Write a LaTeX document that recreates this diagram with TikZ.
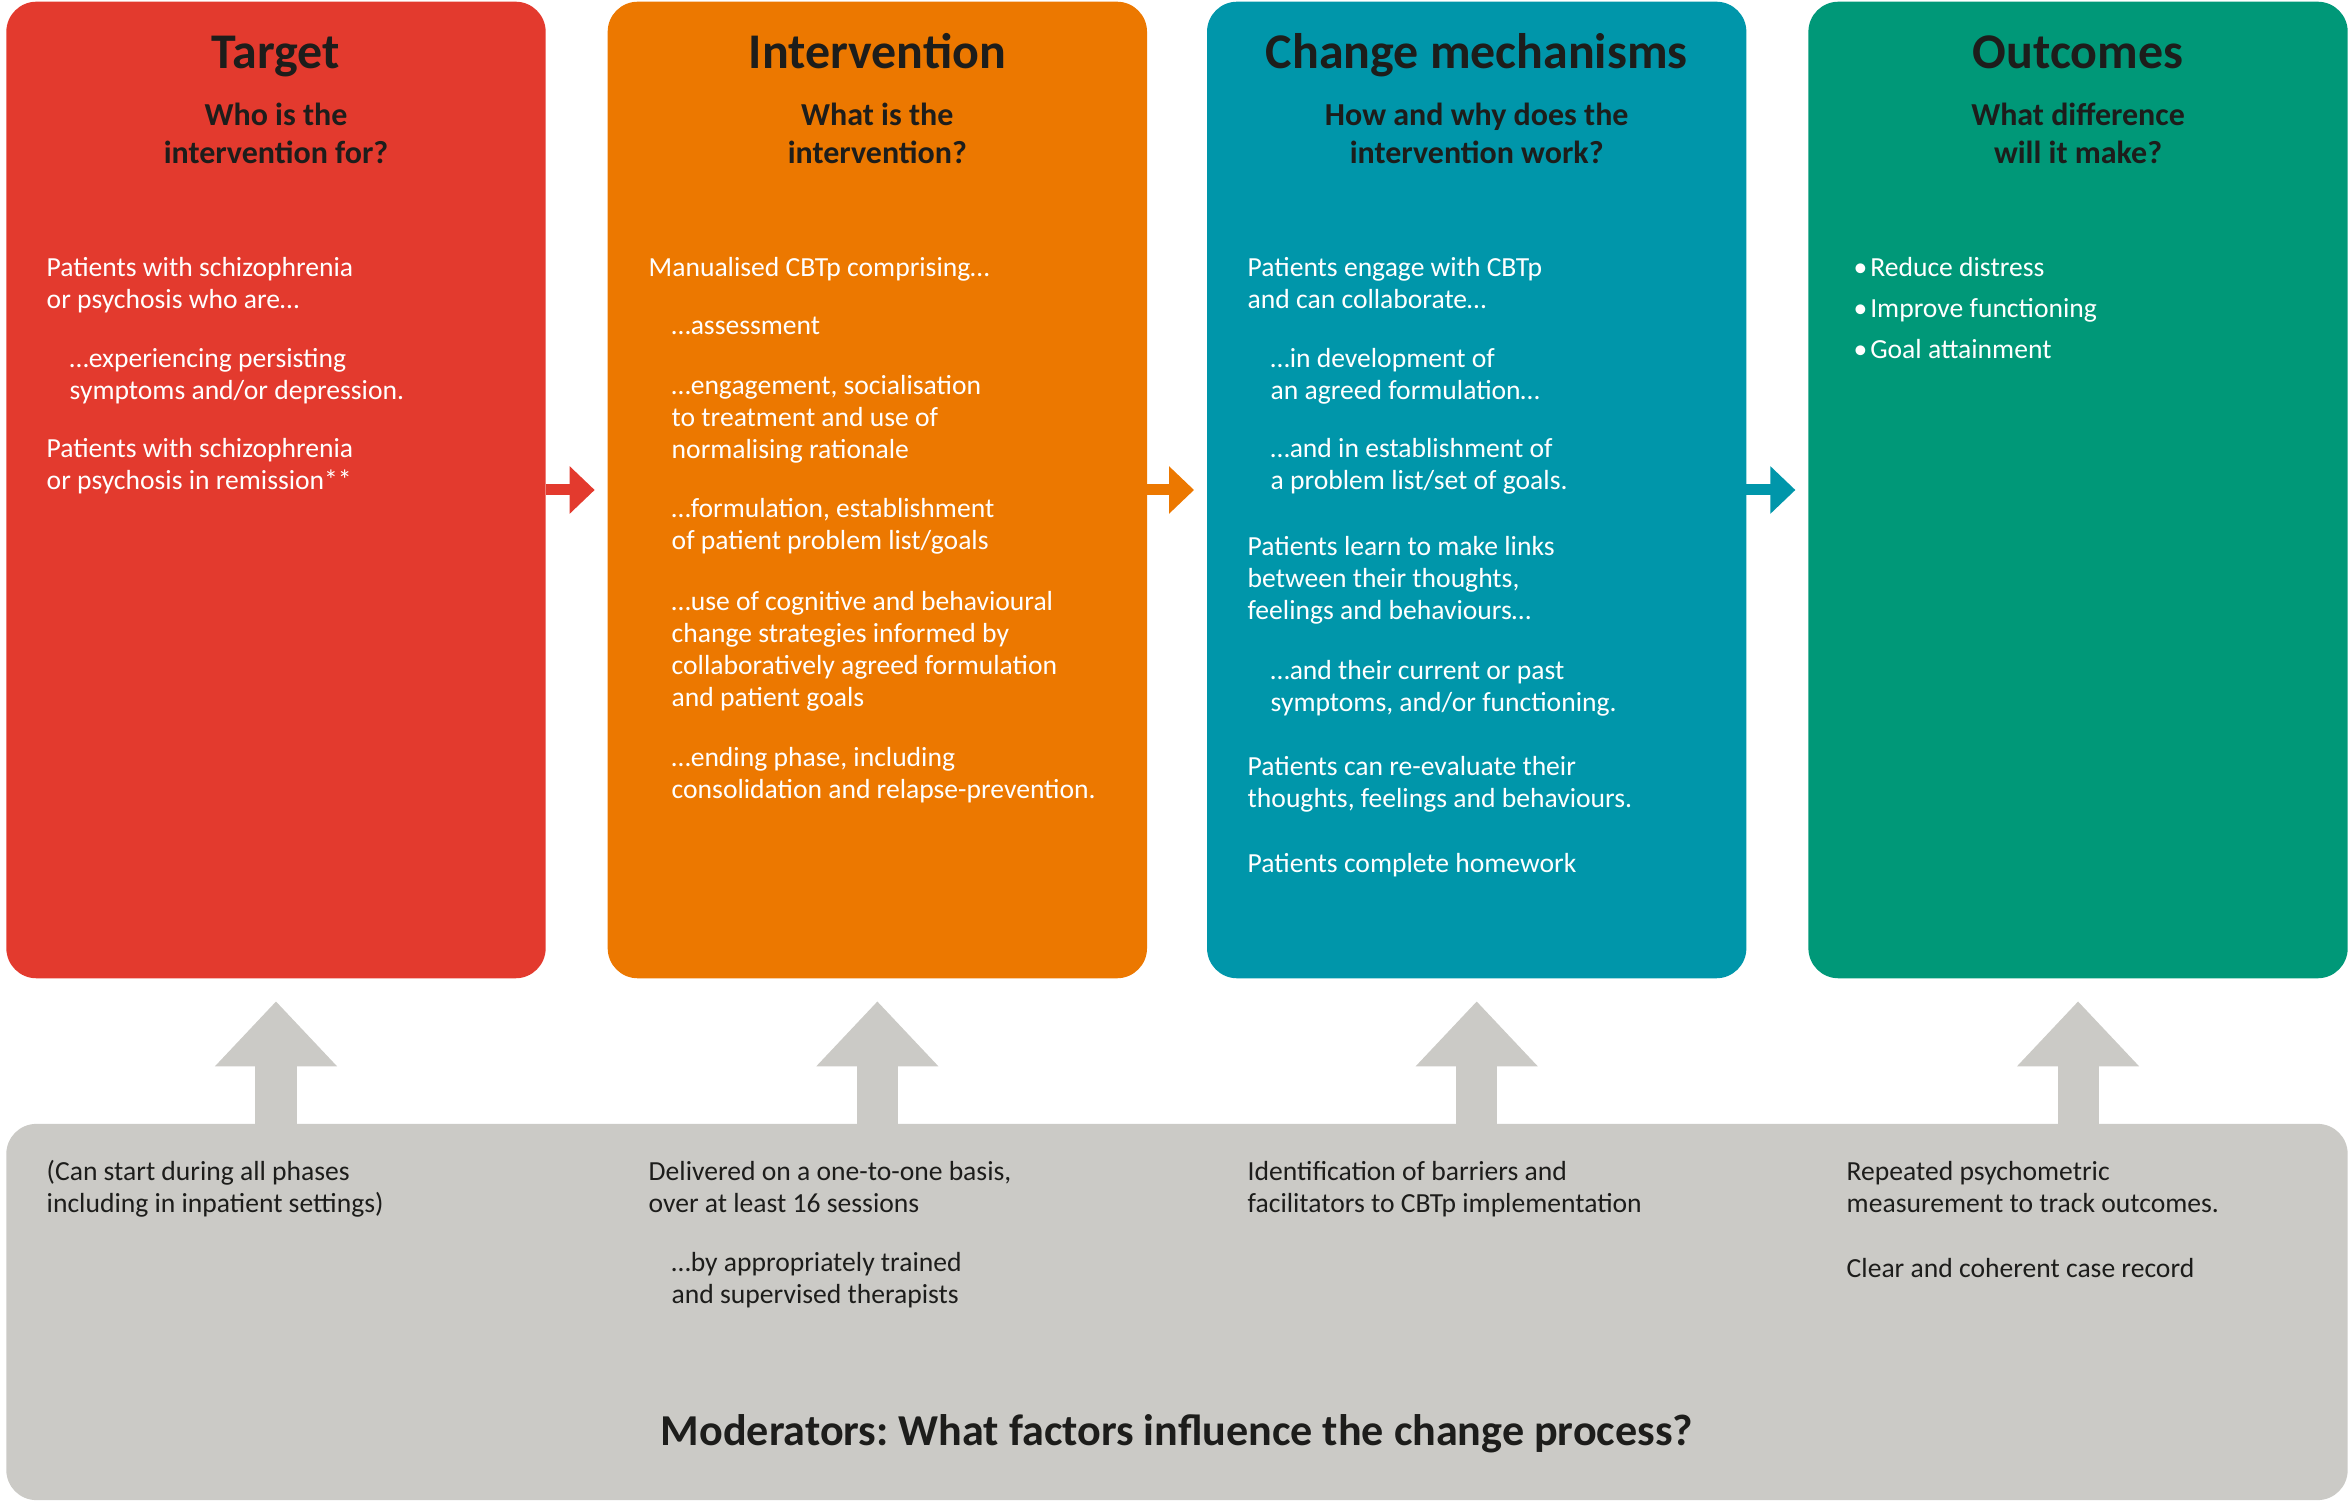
\documentclass[tikz,border=0pt]{standalone}
\usepackage{fontspec}
\setmainfont{Carlito}
\usetikzlibrary{positioning,calc,arrows.meta}
\definecolor{tgtRed}{RGB}{227,58,46}
\definecolor{intOrange}{RGB}{236,120,0}
\definecolor{mechTeal}{RGB}{0,150,170}
\definecolor{outGreen}{RGB}{0,152,120}
\definecolor{modGrey}{RGB}{203,202,198}
\definecolor{inkDark}{RGB}{29,29,27}
\tikzset{
    panel/.style={
        rectangle,
        rounded corners=0.3cm,
        minimum width=5.39cm,
        minimum height=9.76cm,
        inner sep=0pt,
        outer sep=0pt
    },
    headTxt/.style={font=\fontsize{14.2}{16}\selectfont\bfseries, text=inkDark, anchor=base, inner sep=0pt},
    askTxt/.style={font=\fontsize{9.1}{10.8}\selectfont\bfseries, text=inkDark, anchor=base, align=center, inner sep=0pt},
    bodyTxt/.style={font=\fontsize{7.85}{9.1}\selectfont, text=white, anchor=base west, align=left, inner sep=0pt},
    modTxt/.style={bodyTxt, text=inkDark},
    stepArrow/.style={-{Triangle[length=0.25cm,width=0.46cm]}, line width=0.11cm, shorten >=0.13cm},
    liftArrow/.style={-{Triangle[length=0.65cm,width=1.18cm]}, line width=0.41cm, modGrey, shorten >=0.23cm}
}
\begin{document}
\frenchspacing
\begin{tikzpicture}[x=0.01cm, y=-0.01cm]
    \useasboundingbox (0,0) rectangle (2348,1501);

    % the four phases
    \node[panel, fill=tgtRed] (tgt) at (276,490) {};
    \node[panel, fill=intOrange, right=0.62cm of tgt] (int) {};
    \node[panel, fill=mechTeal, right=0.60cm of int] (mech) {};
    \node[panel, fill=outGreen, right=0.62cm of mech] (out) {};

    % moderators strip
    \node[panel, fill=modGrey, minimum width=23.40cm, minimum height=3.76cm] (mod) at (1177,1312) {};

    \draw[stepArrow, tgtRed] (tgt.east) -- (int.west);
    \draw[stepArrow, intOrange] (int.east) -- (mech.west);
    \draw[stepArrow, mechTeal] (mech.east) -- (out.west);

    \draw[liftArrow] (mod.north -| tgt.south) -- (tgt.south);
    \draw[liftArrow] (mod.north -| int.south) -- (int.south);
    \draw[liftArrow] (mod.north -| mech.south) -- (mech.south);
    \draw[liftArrow] (mod.north -| out.south) -- (out.south);

    % headings
    \node[headTxt] (tgtH) at ($(tgt.north)+(0,67)$) {Target};
    \node[headTxt] (intH) at ($(int.north)+(0,67)$) {Intervention};
    \node[headTxt] (mechH) at ($(mech.north)+(0,67)$) {Change mechanisms};
    \node[headTxt] (outH) at ($(out.north)+(0,67)$) {Outcomes};

    \node[askTxt] (tgtQ) at ($(tgt.north)+(0,162)$) {Who is the\\intervention for?};
    \node[askTxt] (intQ) at ($(int.north)+(0,162)$) {What is the\\intervention?};
    \node[askTxt] (mechQ) at ($(mech.north)+(0,162)$) {How and why does the\\intervention work?};
    \node[askTxt] (outQ) at ($(out.north)+(0,162)$) {What difference\\will it make?};

    % Target (nodes sit on their last line)
    \node[bodyTxt] (tgtA) at (46,309) {Patients with schizophrenia\\or psychosis who are…};
    \node[bodyTxt] (tgtB) at (69,400) {…experiencing persisting\\symptoms and/or depression.};
    \node[bodyTxt] (tgtC) at (46,490) {Patients with schizophrenia\\or psychosis in remission**};

    % Intervention
    \node[bodyTxt] (intA) at (648,277) {Manualised CBTp comprising…};
    \node[bodyTxt] (intB) at (671,335) {…assessment};
    \node[bodyTxt] (intC) at (671,459) {…engagement, socialisation\\to treatment and use of\\normalising rationale};
    \node[bodyTxt] (intD) at (671,550) {…formulation, establishment\\of patient problem list/goals};
    \node[bodyTxt] (intE) at (671,707) {…use of cognitive and behavioural\\change strategies informed by\\collaboratively agreed formulation\\and patient goals};
    \node[bodyTxt] (intF) at (671,799) {…ending phase, including\\consolidation and relapse-prevention.};

    % Change mechanisms
    \node[bodyTxt] (mechA) at (1247,309) {Patients engage with CBTp\\and can collaborate…};
    \node[bodyTxt] (mechB) at (1270,400) {…in development of\\an agreed formulation…};
    \node[bodyTxt] (mechC) at (1270,490) {…and in establishment of\\a problem list/set of goals.};
    \node[bodyTxt] (mechD) at (1247,620) {Patients learn to make links\\between their thoughts,\\feelings and behaviours…};
    \node[bodyTxt] (mechE) at (1270,712) {…and their current or past\\symptoms, and/or functioning.};
    \node[bodyTxt] (mechF) at (1247,808) {Patients can re-evaluate their\\thoughts, feelings and behaviours.};
    \node[bodyTxt] (mechG) at (1247,873) {Patients complete homework};

    % Outcomes
    \node[bodyTxt, font=\fontsize{7.85}{11.66}\selectfont] (outA) at (1853,359) {•\hspace{0.8pt}Reduce distress\\•\hspace{0.8pt}Improve functioning\\•\hspace{0.8pt}Goal attainment};

    % Moderators
    \node[modTxt] (modA) at (46,1212) {(Can start during all phases\\including in inpatient settings)};
    \node[modTxt] (modB) at (648,1212) {Delivered on a one-to-one basis,\\over at least 16 sessions};
    \node[modTxt] (modC) at (671,1304) {…by appropriately trained\\and supervised therapists};
    \node[modTxt] (modD) at (1247,1212) {Identification of barriers and\\facilitators to CBTp implementation};
    \node[modTxt] (modE) at (1846,1212) {Repeated psychometric\\measurement to track outcomes.};
    \node[modTxt] (modF) at (1846,1277) {Clear and coherent case record};
    \node[font=\fontsize{12.55}{14}\selectfont\bfseries, text=inkDark, anchor=base, inner sep=0pt] (modH) at (1177,1445) {Moderators: What factors influence the change process?};
\end{tikzpicture}
\end{document}
